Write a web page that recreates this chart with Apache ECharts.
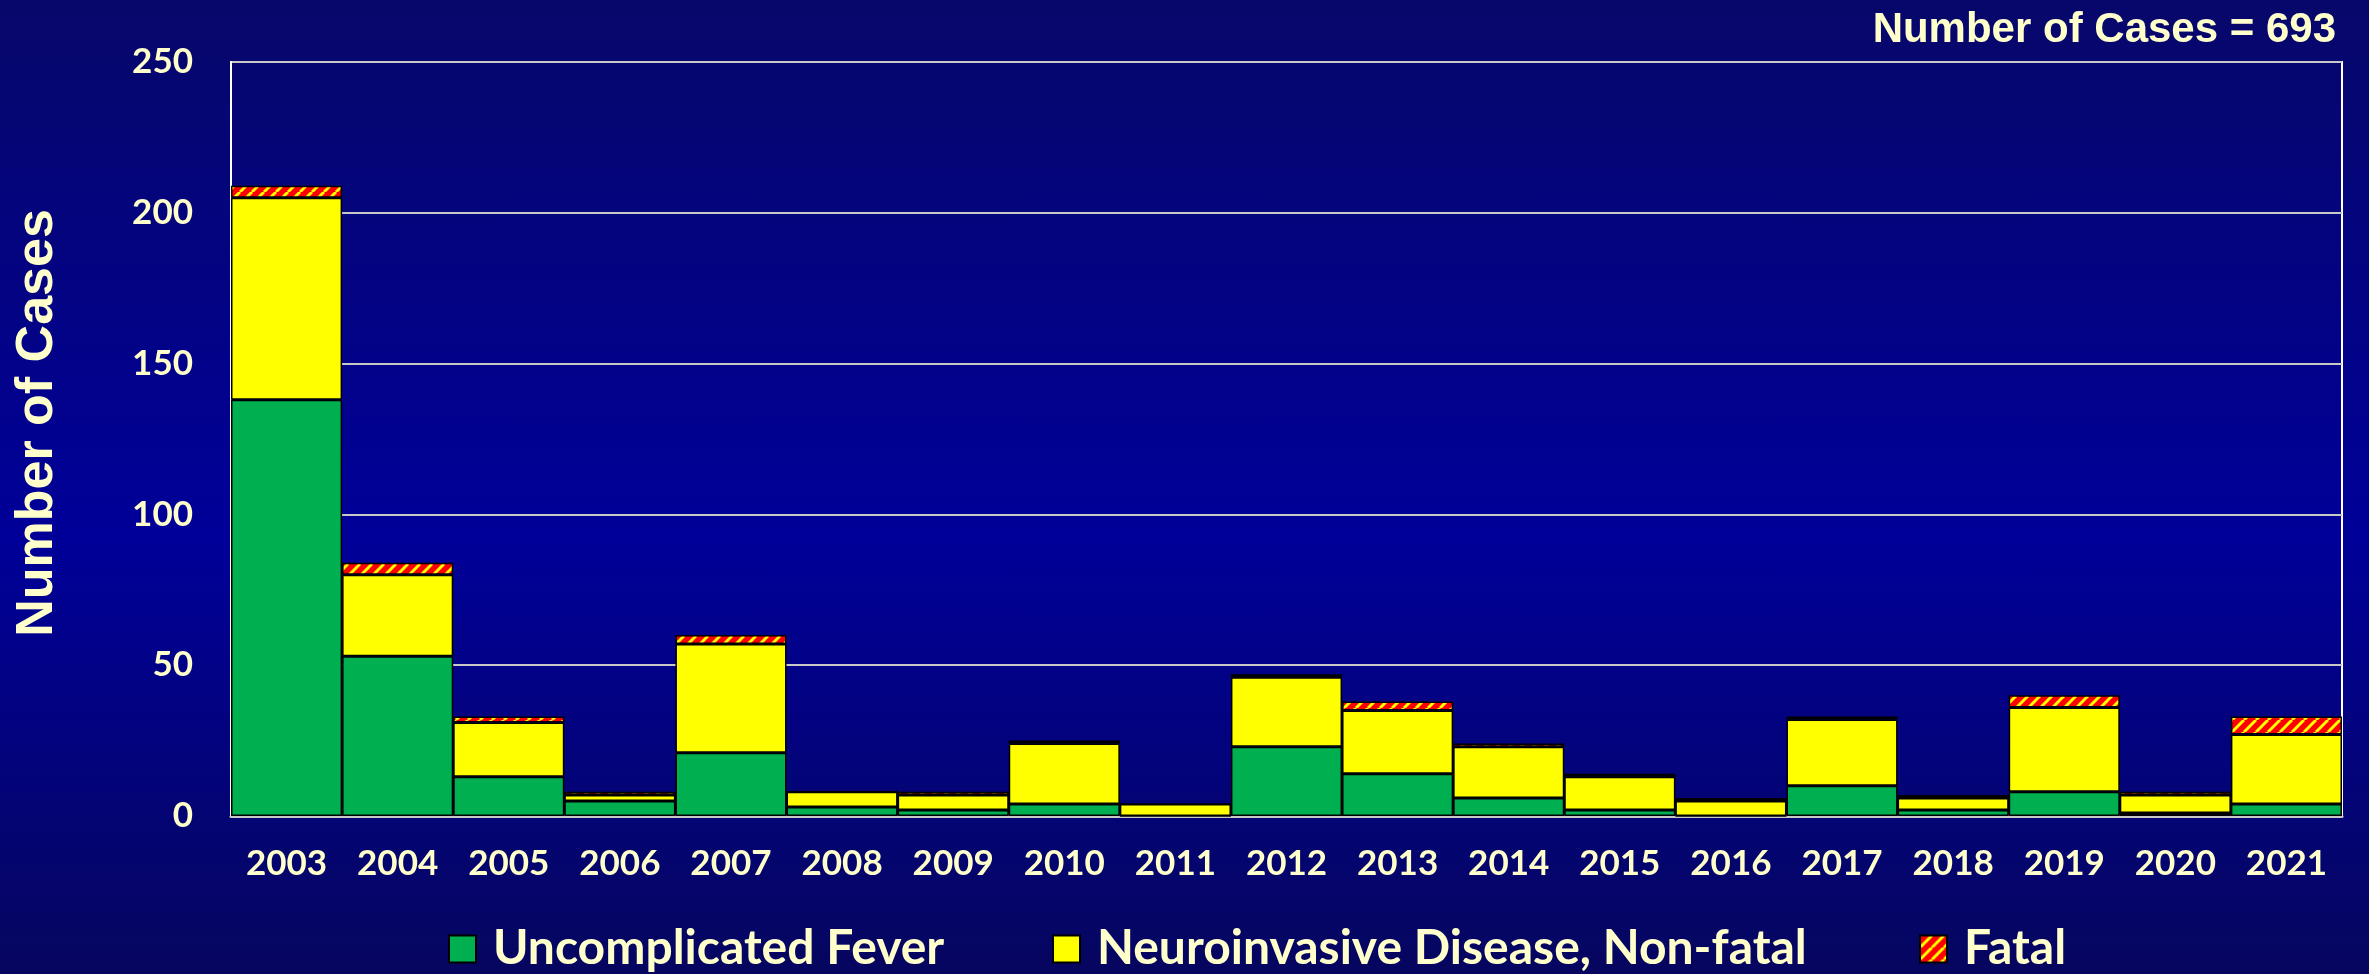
<!DOCTYPE html>
<html>
<head>
<meta charset="utf-8">
<script src="https://cdn.jsdelivr.net/npm/echarts@6/dist/echarts.min.js"></script>
<style>
html,body{margin:0;padding:0;}
#chart{width:2369px;height:974px;background:linear-gradient(180deg,#07076a 0%,#000099 55%,#06065f 100%);}
</style>
</head>
<body>
<div id="chart"></div>
<script>
// ---- data ----
var years = ['2003','2004','2005','2006','2007','2008','2009','2010','2011','2012','2013','2014','2015','2016','2017','2018','2019','2020','2021'];
var feverCases = [138,53,13,5,21,3,2,4,0,23,14,6,2,0,10,2,8,1,4];
var neuroCases = [67,27,18,2,36,5,5,20,4,23,21,17,11,5,22,4,28,6,23];
var fatalCases = [4,4,2,1,3,0,1,1,0,1,3,1,1,1,1,1,4,1,6];
var yTicks = [0,50,100,150,200,250];
var seriesNames = ['Uncomplicated Fever','Neuroinvasive Disease, Non-fatal','Fatal'];
var titleText = 'Number of Cases = 693';
var yTitle = 'Number of Cases';

// ---- fatal hatch pattern ----
function hatch(){
  var T = 12, c = document.createElement('canvas');
  c.width = T; c.height = T;
  var g = c.getContext('2d');
  g.fillStyle = '#FF0000'; g.fillRect(0,0,T,T);
  g.strokeStyle = '#FFFF00'; g.lineWidth = 3;
  for (var k=-1;k<=1;k++){ g.beginPath(); g.moveTo(k*T, T); g.lineTo(k*T+T, 0); g.stroke(); }
  return {image: c, repeat: 'repeat'};
}

var txt = '#FFFFCC';
var chart = echarts.init(document.getElementById('chart'), null, {renderer:'canvas'});
var legendBase = {
  orient:'horizontal', top: 920, itemWidth: 27, itemHeight: 27, itemGap: 0,
  icon: 'rect',
  textStyle:{color: txt, fontFamily:'Lato', fontWeight:'bold', fontSize: 48, padding:[0,0,0,12]}
};
chart.setOption({
  animation: false,
  backgroundColor: 'transparent',
  title: {
    text: titleText, right: 28, top: 4,
    textStyle: {color: txt, fontFamily:'Liberation Sans, Arial', fontWeight:'bold', fontSize: 42}
  },
  graphic: [{
    type:'text', x: 38, y: 423, rotation: Math.PI/2,
    style: {text: yTitle, fill: txt, font: 'bold 52px "Liberation Sans", Arial', align:'center', verticalAlign:'middle'}
  }],
  legend: [
    Object.assign({}, legendBase, {left: 443, data:[seriesNames[0]]}),
    Object.assign({}, legendBase, {left: 1047, data:[seriesNames[1]]}),
    Object.assign({}, legendBase, {left: 1914, data:[seriesNames[2]]})
  ],
  grid: {left: 231, right: 27, top: 62, bottom: 158, show: true, borderColor:'#FFFFFF', borderWidth: 2},
  xAxis: {
    type:'category', data: years,
    axisLine:{show:true, lineStyle:{color:'#C8C8C8', width:3}},
    axisTick:{show:false},
    axisLabel:{interval:0, color: txt, fontFamily:'Lato', fontWeight:'bold', fontSize: 35, margin: 30}
  },
  yAxis: {
    type:'value', min: yTicks[0], max: yTicks[yTicks.length-1], interval: 50,
    axisLine:{show:true, lineStyle:{color:'#FFFFFF', width:2}},
    axisTick:{show:false},
    splitLine:{show:true, lineStyle:{color:'#C8C8C8', width:2}},
    axisLabel:{color: txt, fontFamily:'Lato', fontWeight:'bold', fontSize: 35, margin: 38}
  },
  series: [
    {name: seriesNames[0], type:'bar', stack:'a', data: feverCases, barCategoryGap:'0%',
     itemStyle:{color:'#00B050', borderColor:'#000000', borderWidth:1.5}},
    {name: seriesNames[1], type:'bar', stack:'a', data: neuroCases, barCategoryGap:'0%',
     itemStyle:{color:'#FFFF00', borderColor:'#000000', borderWidth:1.5}},
    {name: seriesNames[2], type:'bar', stack:'a', data: fatalCases, barCategoryGap:'0%',
     itemStyle:{color: hatch(), borderColor:'#000000', borderWidth:1.5}}
  ]
});
</script>
</body>
</html>
